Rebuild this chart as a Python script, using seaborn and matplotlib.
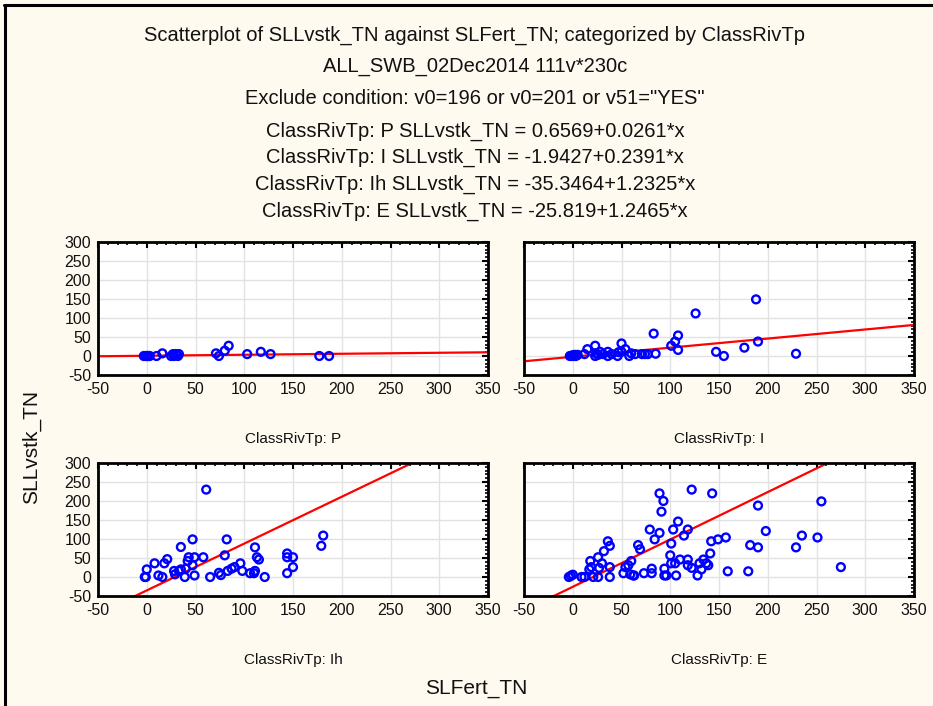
import numpy as np
import pandas as pd
import matplotlib
matplotlib.use("Agg")
import matplotlib.pyplot as plt
from matplotlib.ticker import MultipleLocator
import seaborn as sns

# ---------------------------------------------------------------- data
classes = ["P", "I", "Ih", "E"]

p_x = [-3, -1, 0, 1, 2, 3, 10, 16, 25, 27, 28, 30, 32, 33, 71, 74, 80, 84, 103, 117, 127, 177, 187]
p_y = [0, 0, 0, 0, 0, 0, 0, 7, 0, 5, 0, 5, 0, 5, 7, 0, 14, 27, 5, 11, 5, 0, 0]

i_x = [-3, -1, 0, 1, 2, 3, 4, 5, 12, 15, 23, 23, 24, 26, 28, 31, 36, 36, 40, 46, 47, 50, 50,
       54, 58, 60, 64, 71, 74, 77, 83, 85, 101, 105, 108, 108, 126, 147, 155, 176, 188, 190, 229]
i_y = [0, 0, 2, 0, 3, 0, 2, 3, 5, 18, 27, 0, 7, 3, 11, 5, 0, 11, 5, 0, 10, 33, 11,
       18, 0, 7, 5, 5, 5, 5, 59, 6, 27, 38, 54, 16, 112, 11, 0, 22, 149, 38, 6]

ih_x = [-2, -1, 0, 8, 12, 16, 18, 21, 28, 29, 33, 35, 35, 39, 40, 42, 43, 47, 47, 49, 49, 58,
        61, 65, 74, 76, 80, 82, 83, 87, 90, 96, 98, 106, 110, 111, 111, 113, 115, 121, 144,
        144, 144, 150, 150, 179, 181]
ih_y = [0, 0, 20, 36, 4, 0, 36, 47, 16, 7, 16, 79, 20, 0, 22, 42, 52, 99, 31, 52, 4, 52,
        230, 0, 11, 5, 57, 99, 16, 22, 26, 36, 16, 10, 10, 16, 78, 52, 46, 0, 10,
        62, 52, 52, 26, 82, 109]

e_x = [-4, -2, 0, 9, 12, 17, 18, 19, 21, 26, 26, 27, 30, 32, 36, 38, 38, 38, 52, 54, 57, 59,
       60, 62, 63, 67, 69, 73, 79, 81, 81, 84, 89, 89, 91, 93, 94, 94, 96, 100, 101, 101,
       103, 105, 106, 108, 110, 114, 118, 118, 118, 122, 122, 128, 130, 132, 134, 137, 139,
       141, 142, 143, 149, 157, 159, 180, 182, 190, 190, 198, 229, 235, 251, 255, 275]
e_y = [0, 3, 6, 0, 0, 20, 42, 26, 0, 52, 0, 24, 36, 68, 94, 82, 0, 26, 10, 26, 31, 7,
       42, 4, 4, 84, 73, 10, 125, 22, 10, 99, 220, 116, 172, 200, 22, 4, 4, 57, 88, 36,
       125, 36, 4, 146, 46, 109, 125, 46, 31, 230, 24, 4, 36, 20, 46, 36, 31,
       62, 94, 220, 99, 104, 15, 15, 84, 188, 78, 121, 78, 109, 104, 199, 26]

intercepts = [0.6569, -1.9427, -35.3464, -25.819]
slopes = [0.0261, 0.2391, 1.2325, 1.2465]

title_lines = [
    "Scatterplot of SLLvstk_TN against SLFert_TN; categorized by ClassRivTp",
    "ALL_SWB_02Dec2014 111v*230c",
    'Exclude condition: v0=196 or v0=201 or v51="YES"',
    "ClassRivTp: P SLLvstk_TN = 0.6569+0.0261*x",
    "ClassRivTp: I SLLvstk_TN = -1.9427+0.2391*x",
    "ClassRivTp: Ih SLLvstk_TN = -35.3464+1.2325*x",
    "ClassRivTp: E SLLvstk_TN = -25.819+1.2465*x",
]

df = pd.concat([
    pd.DataFrame({"SLFert_TN": xs, "SLLvstk_TN": ys, "ClassRivTp": c})
    for c, xs, ys in zip(classes, [p_x, i_x, ih_x, e_x], [p_y, i_y, ih_y, e_y])
])

# ---------------------------------------------------------------- style
bg = "#fffaf0"
sns.set_style("white")
plt.rcParams["font.family"] = ["Liberation Sans", "DejaVu Sans"]
plt.rcParams["axes.unicode_minus"] = False

fig = plt.figure(figsize=(9.33, 7.06), dpi=100, facecolor=bg)

# frame lines at left and top of the window
fig.add_artist(plt.Line2D([0.005, 0.005], [0, 0.993], color="black", lw=2.2, transform=fig.transFigure))
fig.add_artist(plt.Line2D([0.004, 1.0], [0.993, 0.993], color="black", lw=2.2, transform=fig.transFigure))

title_y = [35, 66, 99, 131, 157, 184, 211]
for txt, yy in zip(title_lines, title_y):
    fig.text(0.509, 1 - yy / 706, txt, ha="center", va="center", fontsize=14.5, color="#111111")

boxes = {
    "P": (98, 242), "I": (524, 242),
    "Ih": (98, 463), "E": (524, 463),
}
w_px, h_px = 390, 133

for c, b0, b1 in zip(classes, intercepts, slopes):
    left, top = boxes[c]
    ax = fig.add_axes([left / 933, 1 - (top + h_px) / 706, w_px / 933, h_px / 706])
    ax.set_facecolor("white")
    sub = df[df["ClassRivTp"] == c]
    sns.scatterplot(data=sub, x="SLFert_TN", y="SLLvstk_TN", ax=ax, marker="o", s=32,
                    facecolor="none", edgecolor="#0000ff", linewidth=1.7, zorder=3)
    xl = np.array([-50, 350])
    sns.lineplot(x=xl, y=b0 + b1 * xl, ax=ax, color="#ff0000", lw=1.6, zorder=2)
    ax.set_xlim(-50, 350)
    ax.set_ylim(-50, 300)
    ax.xaxis.set_major_locator(MultipleLocator(50))
    ax.yaxis.set_major_locator(MultipleLocator(50))
    ax.xaxis.set_minor_locator(MultipleLocator(10))
    ax.yaxis.set_minor_locator(MultipleLocator(10))
    ax.grid(True, which="major", color="#e2e2e2", lw=1.0, zorder=0)
    ax.set_axisbelow(True)
    ax.tick_params(which="both", direction="in", top=True, right=True, color="black",
                   labelsize=11.5, labelcolor="#111111", pad=5)
    ax.tick_params(which="major", length=4, width=1.5)
    ax.tick_params(which="minor", length=2.5, width=1.2)
    if c in ("I", "E"):
        ax.tick_params(labelleft=False)
    for sp in ax.spines.values():
        sp.set_color("black")
        sp.set_linewidth(2)
    ax.set_xlabel("ClassRivTp: " + c, fontsize=11, labelpad=25, color="#111111")
    ax.set_ylabel("")

fig.text(476 / 933, 1 - 688 / 706, "SLFert_TN", ha="center", va="center", fontsize=15, color="#111111")
fig.text(31 / 933, 1 - 447 / 706, "SLLvstk_TN", ha="center", va="center", rotation=90,
         fontsize=15, color="#111111")

fig.savefig("out.png", dpi=100, facecolor=bg)
